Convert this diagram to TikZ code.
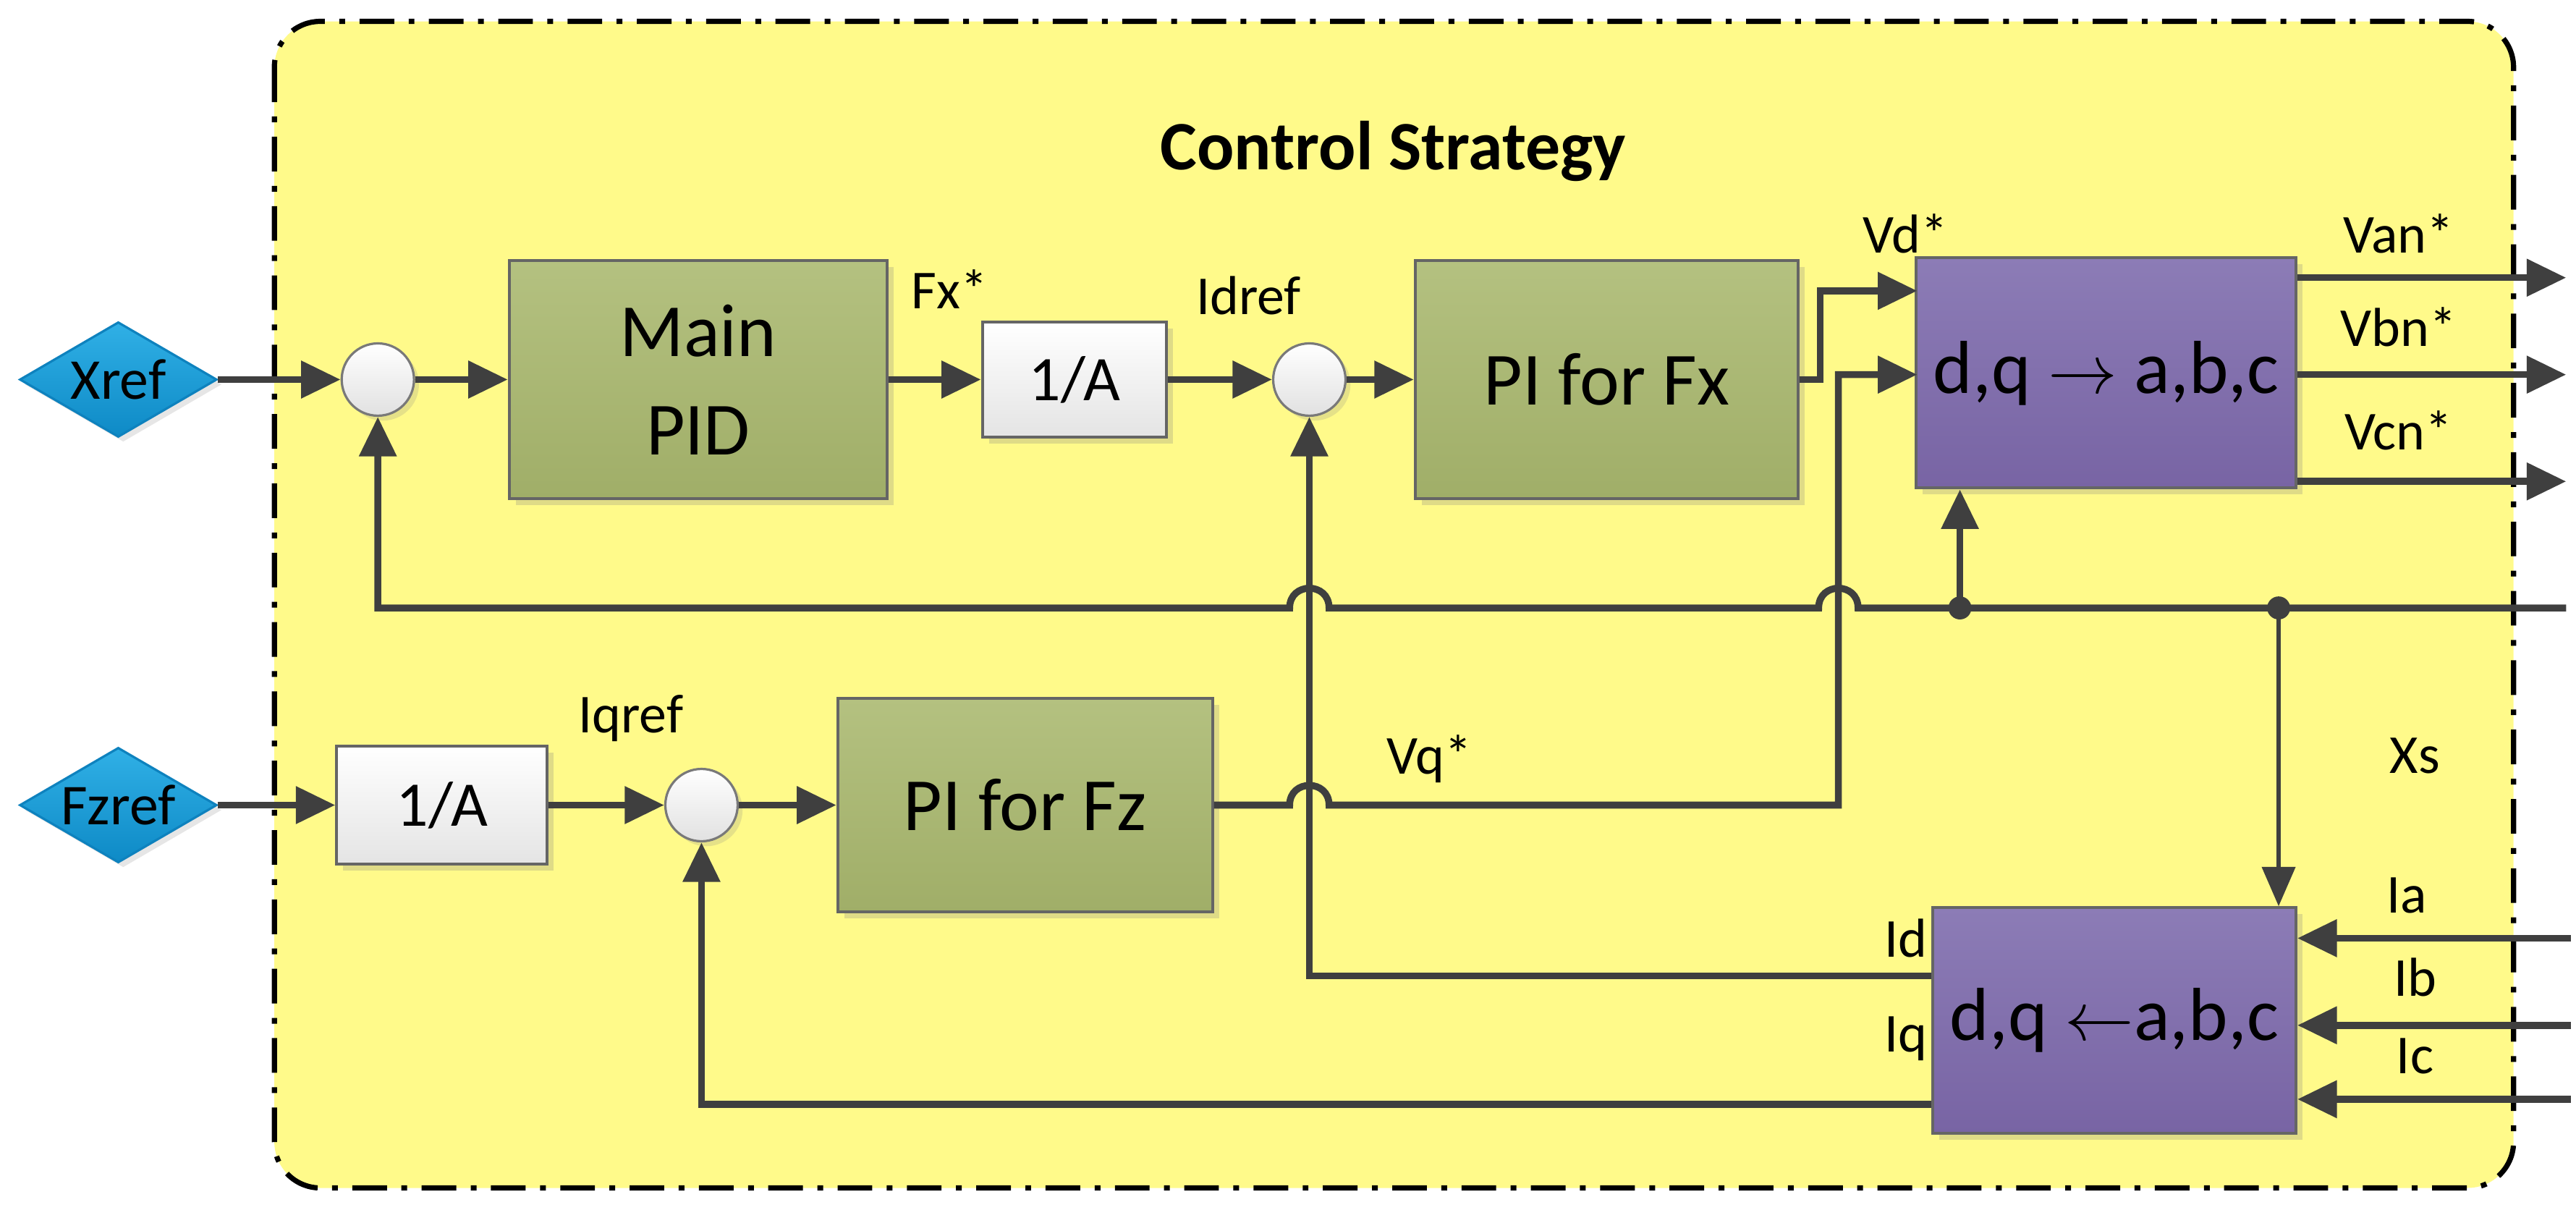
\documentclass[tikz,border=0pt]{standalone}
\usepackage{fontspec}
\setmainfont{Carlito}
\usetikzlibrary{arrows.meta,shapes.geometric,shadows}
\definecolor{frameY}{HTML}{FFFA8A}
\definecolor{lineC}{HTML}{3F3F3F}
\begin{document}
\begin{tikzpicture}[x={(0.01cm,0)},y={(0,-0.01cm)},
  line/.style={draw=lineC,line width=1.2pt},
  arr/.style={line,-{Triangle[length=0.24cm,width=0.22cm]}},
  blk/.style={draw=lineC!80,line width=0.5pt,drop shadow={opacity=0.25,shadow xshift=0.04cm,shadow yshift=-0.04cm},font=\fontsize{13}{15}\selectfont,align=center,inner sep=0pt},
  green/.style={blk,top color=green!30!olive!20!white!0!, top color={rgb,255:red,180;green,193;blue,128},bottom color={rgb,255:red,160;green,174;blue,104}},
  purple/.style={blk,top color={rgb,255:red,140;green,124;blue,182},bottom color={rgb,255:red,120;green,100;blue,164}},
  grey/.style={blk,top color=white,bottom color={rgb,255:red,228;green,228;blue,228},font=\fontsize{11}{13}\selectfont},
  sum/.style={circle,draw=lineC!70,line width=0.4pt,minimum size=0.44cm,inner sep=0pt,top color=white,bottom color={rgb,255:red,225;green,225;blue,225},drop shadow={opacity=0.2,shadow xshift=0.03cm,shadow yshift=-0.03cm}},
  dia/.style={diamond,aspect=1.7,minimum width=1.2cm,minimum height=0.7cm,inner sep=0pt,top color={rgb,255:red,48;green,176;blue,230},bottom color={rgb,255:red,14;green,138;blue,198},draw={rgb,255:red,14;green,130;blue,190},line width=0.4pt,font=\fontsize{10}{12}\selectfont,drop shadow={opacity=0.2,shadow xshift=0.03cm,shadow yshift=-0.03cm}},
  lab/.style={font=\fontsize{9.5}{11}\selectfont,inner sep=0pt},
  dot/.style={circle,fill=lineC,minimum size=0.14cm,inner sep=0pt}]
\useasboundingbox (0,0) rectangle (1568,736);
\draw[fill=frameY,line width=0.9pt,dash pattern=on 6pt off 2.5pt on 1pt off 2.5pt,rounded corners=0.28cm] (167,13) rectangle (1530,723);
\node[font=\bfseries\fontsize{12}{14}\selectfont] (title) at (848,92) {Control Strategy};

% top row
\node[dia] (xref) at (72,231) {Xref};
\node[sum] (s1) at (230,231) {};
\node[green,minimum width=2.3cm,minimum height=1.45cm] (pid) at (425,231) {Main\\[2pt]PID};
\node[grey,minimum width=1.12cm,minimum height=0.70cm] (inv1) at (654,231) {1/A};
\node[sum] (s2) at (797,231) {};
\node[green,minimum width=2.33cm,minimum height=1.45cm] (pifx) at (978,231) {PI for Fx};
\node[purple,minimum width=2.31cm,minimum height=1.40cm] (dq) at (1282,227) {d,q $\rightarrow$ a,b,c};

% bottom row
\node[dia] (fzref) at (72,490) {Fzref};
\node[grey,minimum width=1.28cm,minimum height=0.72cm] (inv2) at (269,490) {1/A};
\node[sum] (s3) at (427,490) {};
\node[green,minimum width=2.28cm,minimum height=1.30cm] (pifz) at (624,490) {PI for Fz};
\node[purple,minimum width=2.21cm,minimum height=1.37cm] (abc) at (1287,621) {d,q $\leftarrow$a,b,c};

% labels
\node[lab] at (578,176) {Fx*};
\node[lab] at (760,180) {Idref};
\node[lab] at (1160,142) {Vd*};
\node[lab] at (1460,142) {Van*};
\node[lab] at (1460,199) {Vbn*};
\node[lab] at (1460,262) {Vcn*};
\node[lab] at (384,437) {Iqref};
\node[lab] at (870,462) {Vq*};
\node[lab] at (1470,460) {Xs};
\node[lab] at (1160,571) {Id};
\node[lab] at (1160,632) {Iq};
\node[lab] at (1465,545) {Ia};
\node[lab] at (1470,595) {Ib};
\node[lab] at (1470,643) {Ic};

% coordinates
\coordinate (vdin) at (1167,177);
\coordinate (vqin) at (1167,228);
\coordinate (o1) at (1562,169);
\coordinate (o2) at (1562,228);
\coordinate (o3) at (1562,293);
\coordinate (fbR) at (1562,370);
\coordinate (j1) at (1193,370);
\coordinate (j2) at (1387,370);
\coordinate (idc) at (797,594);
\coordinate (iqc) at (427,672);
\coordinate (ia) at (1565,571);
\coordinate (ib) at (1565,624);
\coordinate (ic) at (1565,669);

% connectors
\draw[arr] (xref.east) -- (s1.west);
\draw[arr] (s1.east) -- (pid.west);
\draw[arr] (pid.east) -- (inv1.west);
\draw[arr] (inv1.east) -- (s2.west);
\draw[arr] (s2.east) -- (pifx.west);
\draw[arr] (pifx.east) -- (1108,231) |- (vdin);
\draw[arr] (pifz.east) -- (785,490) .. controls (785,474) and (809,474) .. (809,490) -- (1119,490) |- (vqin);
\draw[arr] (dq.east|-o1) -- (o1);
\draw[arr] (dq.east|-o2) -- (o2);
\draw[arr] (dq.east|-o3) -- (o3);
\draw[arr] (fbR) -- (1131,370) .. controls (1131,354) and (1107,354) .. (1107,370) -- (809,370) .. controls (809,354) and (785,354) .. (785,370) -- (230,370) -- (s1.south);
\draw[arr] (j1) -- (j1|-dq.south);
\draw[draw=lineC,line width=0.8pt,-{Triangle[length=0.24cm,width=0.2cm]}] (j2) -- (j2|-abc.north);
\node[dot] at (j1) {};
\node[dot] at (j2) {};
\draw[arr] (fzref.east) -- (inv2.west);
\draw[arr] (inv2.east) -- (s3.west);
\draw[arr] (s3.east) -- (pifz.west);
\draw[arr] (abc.west|-idc) -- (idc) -- (s2.south);
\draw[arr] (abc.west|-iqc) -- (iqc) -- (s3.south);
\draw[arr] (ia) -- (abc.east|-ia);
\draw[arr] (ib) -- (abc.east|-ib);
\draw[arr] (ic) -- (abc.east|-ic);
\end{tikzpicture}
\end{document}
